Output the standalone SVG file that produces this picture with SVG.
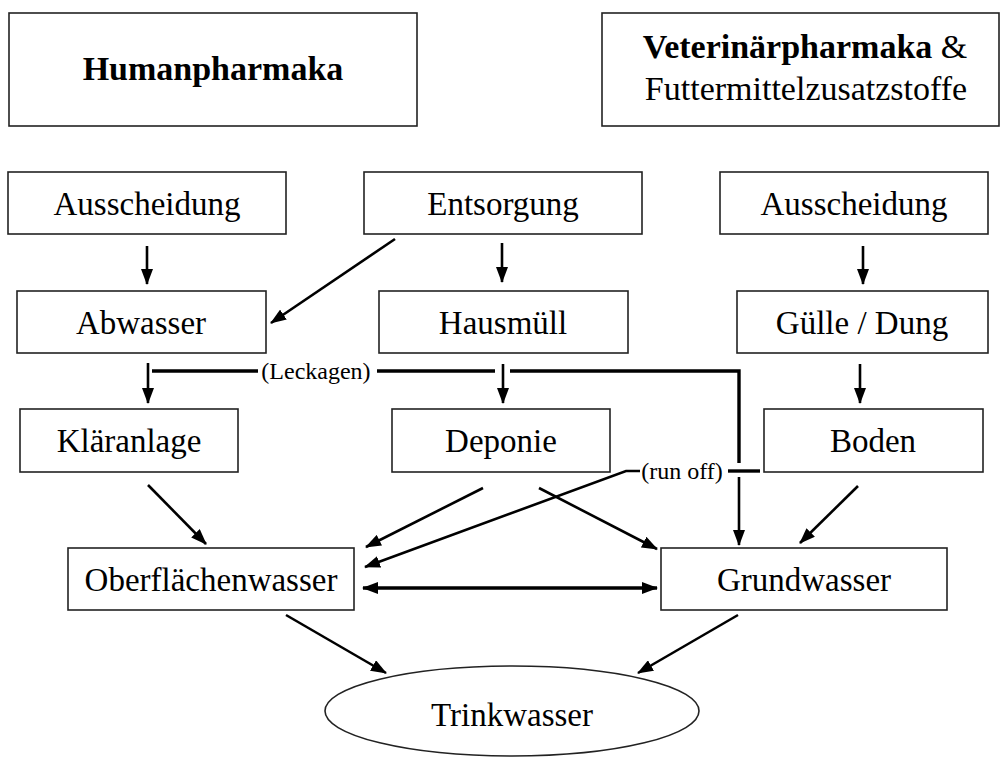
<svg xmlns="http://www.w3.org/2000/svg" width="1003" height="760" viewBox="0 0 1003 760">
<defs>
<style>
.box{fill:#fff;stroke:#222;stroke-width:1.6}
.t{font-family:"Liberation Serif","Times New Roman",serif;font-size:33px;fill:#000;text-anchor:middle}
.tb{font-family:"Liberation Serif","Times New Roman",serif;font-size:34px;fill:#000;text-anchor:middle}
.lbl{font-family:"Liberation Serif","Times New Roman",serif;font-size:24px;fill:#000;text-anchor:middle}
.c{fill:none;stroke:#000;stroke-width:2.6}
.ct{fill:none;stroke:#000;stroke-width:3.4}
</style>
<marker id="ah" viewBox="0 0 16 12" refX="15" refY="6" markerWidth="16" markerHeight="12" markerUnits="userSpaceOnUse" orient="auto-start-reverse">
<path d="M0,0 L16,6 L0,12 z" fill="#000"/>
</marker>
</defs>
<rect width="1003" height="760" fill="#fff"/>

<g id="humanpharmaka">
<rect class="box" x="9" y="13" width="408" height="113"/>
<text class="tb" x="213" y="80" font-weight="bold">Humanpharmaka</text>
</g>
<g id="veterinaerpharmaka">
<rect class="box" x="602" y="13" width="397" height="113"/>
<text class="tb" x="805" y="58"><tspan font-weight="bold">Veterinärpharmaka</tspan> &amp;</text>
<text class="tb" x="806" y="100">Futtermittelzusatzstoffe</text>
</g>

<g id="ausscheidung-human">
<rect class="box" x="8" y="172" width="278" height="62"/>
<text class="t" x="147" y="215">Ausscheidung</text>
</g>
<g id="entsorgung">
<rect class="box" x="364" y="172" width="278" height="62"/>
<text class="t" x="503" y="215">Entsorgung</text>
</g>
<g id="ausscheidung-vet">
<rect class="box" x="720" y="172" width="268" height="62"/>
<text class="t" x="854" y="215">Ausscheidung</text>
</g>

<g id="abwasser">
<rect class="box" x="17" y="291" width="249" height="62"/>
<text class="t" x="141" y="334">Abwasser</text>
</g>
<g id="hausmuell">
<rect class="box" x="379" y="291" width="249" height="62"/>
<text class="t" x="503" y="334">Hausmüll</text>
</g>
<g id="guelle">
<rect class="box" x="737" y="291" width="251" height="62"/>
<text class="t" x="862" y="334">Gülle / Dung</text>
</g>

<g id="klaeranlage">
<rect class="box" x="20" y="409" width="218" height="63"/>
<text class="t" x="129" y="452">Kläranlage</text>
</g>
<g id="deponie">
<rect class="box" x="392" y="409" width="218" height="63"/>
<text class="t" x="501" y="452">Deponie</text>
</g>
<g id="boden">
<rect class="box" x="764" y="409" width="219" height="63"/>
<text class="t" x="873" y="452">Boden</text>
</g>

<g id="oberflaechenwasser">
<rect class="box" x="68" y="548" width="286" height="62"/>
<text class="t" x="211" y="591">Oberflächenwasser</text>
</g>
<g id="grundwasser">
<rect class="box" x="661" y="548" width="286" height="62"/>
<text class="t" x="804" y="591">Grundwasser</text>
</g>

<g id="trinkwasser">
<ellipse class="box" cx="512" cy="711" rx="187" ry="45"/>
<text class="t" x="512" y="726">Trinkwasser</text>
</g>

<g id="connectors">
<line class="c" x1="147" y1="246" x2="147" y2="284" marker-end="url(#ah)"/>
<line class="c" x1="395" y1="239" x2="271" y2="323" marker-end="url(#ah)"/>
<line class="c" x1="502" y1="243" x2="502" y2="282" marker-end="url(#ah)"/>
<line class="c" x1="863" y1="246" x2="863" y2="284" marker-end="url(#ah)"/>

<line class="c" x1="148" y1="363" x2="148" y2="403" marker-end="url(#ah)"/>
<line class="c" x1="503" y1="364" x2="503" y2="403" marker-end="url(#ah)"/>
<line class="c" x1="860" y1="364" x2="860" y2="403" marker-end="url(#ah)"/>

<polyline class="ct" points="152,371 258,371"/>
<text class="lbl" x="316" y="379">(Leckagen)</text>
<polyline class="ct" points="377,371 495,371"/>
<polyline class="ct" points="510,371 739,371 739,463"/>
<line class="c" x1="739" y1="477" x2="739" y2="545" marker-end="url(#ah)"/>

<polyline class="ct" points="760,471 728,471"/>
<text class="lbl" x="682" y="479">(run off)</text>
<polyline class="c" points="640,471 626,471 365,567" marker-end="url(#ah)"/>

<line class="c" x1="148" y1="485" x2="206" y2="544" marker-end="url(#ah)"/>
<line class="c" x1="483" y1="488" x2="366" y2="547" marker-end="url(#ah)"/>
<line class="c" x1="539" y1="488" x2="657" y2="549" marker-end="url(#ah)"/>
<line class="c" x1="858" y1="486" x2="800" y2="543" marker-end="url(#ah)"/>

<line class="ct" x1="363" y1="588" x2="657" y2="588" marker-start="url(#ah)" marker-end="url(#ah)"/>

<line class="c" x1="286" y1="615" x2="386" y2="673" marker-end="url(#ah)"/>
<line class="c" x1="738" y1="615" x2="638" y2="673" marker-end="url(#ah)"/>
</g>
</svg>
